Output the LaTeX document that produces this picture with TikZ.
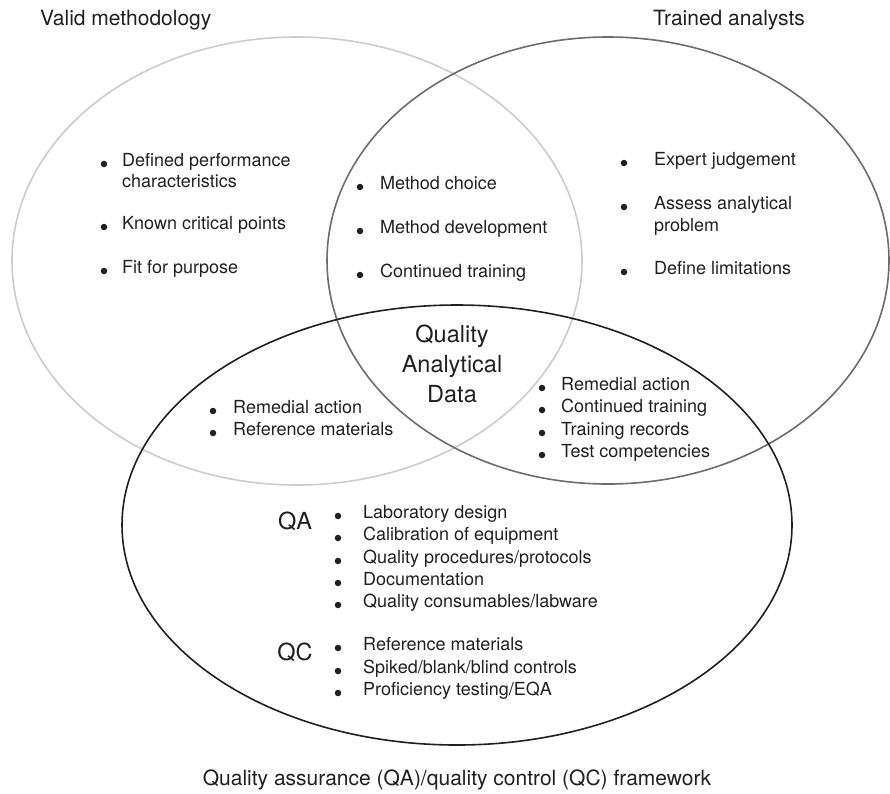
\documentclass[tikz,border=0pt]{standalone}
\usepackage{fontspec}
\setmainfont{TeX Gyre Heros}
\definecolor{ink}{RGB}{35,31,32}
\definecolor{paleline}{RGB}{204,204,204}
\definecolor{midline}{RGB}{108,108,108}
\begin{document}
\begin{tikzpicture}[x=1pt,y=-1pt,
  ring/.style={line width=1.6pt},
  dot/.style={circle,fill=ink,inner sep=0pt,minimum size=6.5pt},
  item/.style={anchor=mid west,inner sep=0pt,text=ink,font=\fontsize{18}{21}\selectfont},
  heading/.style={inner sep=0pt,text=ink,font=\fontsize{21}{25}\selectfont},
  big/.style={inner sep=0pt,text=ink,font=\fontsize{23.5}{30}\selectfont,align=center}]
\useasboundingbox (0,0) rectangle (890,793);

\draw[ring,paleline] (297,261) ellipse [x radius=285pt, y radius=224pt];
\draw[ring,midline] (608,260.5) ellipse [x radius=281pt, y radius=223.5pt];
\draw[ring,ink] (457,525) ellipse [x radius=335pt, y radius=220pt];

\node[heading,anchor=mid west] (valid) at (40,23) {Valid methodology};
\node[heading,anchor=mid west] (trained) at (653,23) {Trained analysts};
\node[heading,anchor=mid] (framework) at (457,783) {Quality assurance (QA)/quality control (QC) framework};

\node[big] (qad) at (452,364) {Quality\\Analytical\\Data};
\node[big,anchor=mid] (qa) at (295,527) {QA};
\node[big,anchor=mid] (qc) at (295,658) {QC};

\node[dot] (vm1d) at (104,164) {};
\node[item] (vm1) at (122,164) {Defined performance};
\node[item] (vm1b) at (122,185) {characteristics};
\node[dot] (vm2d) at (104,227) {};
\node[item] (vm2) at (122,227) {Known critical points};
\node[dot] (vm3d) at (104,271) {};
\node[item] (vm3) at (122,271) {Fit for purpose};

\node[dot] (mt1d) at (360,187) {};
\node[item] (mt1) at (380,187) {Method choice};
\node[dot] (mt2d) at (360,231) {};
\node[item] (mt2) at (380,231) {Method development};
\node[dot] (mt3d) at (360,275) {};
\node[item] (mt3) at (380,275) {Continued training};

\node[dot] (ta1d) at (624,163) {};
\node[item] (ta1) at (654,163) {Expert judgement};
\node[dot] (ta2d) at (624,207) {};
\node[item] (ta2) at (654,207) {Assess analytical};
\node[item] (ta2b) at (654,229) {problem};
\node[dot] (ta3d) at (624,272) {};
\node[item] (ta3) at (654,272) {Define limitations};

\node[dot] (vq1d) at (213,411) {};
\node[item] (vq1) at (233,411) {Remedial action};
\node[dot] (vq2d) at (213,433) {};
\node[item] (vq2) at (233,433) {Reference materials};

\node[dot] (tq1d) at (542,388) {};
\node[item] (tq1) at (561,388) {Remedial action};
\node[dot] (tq2d) at (542,410) {};
\node[item] (tq2) at (561,410) {Continued training};
\node[dot] (tq3d) at (542,433) {};
\node[item] (tq3) at (561,433) {Training records};
\node[dot] (tq4d) at (542,455) {};
\node[item] (tq4) at (561,455) {Test competencies};

\node[dot] (qa1d) at (338,516) {};
\node[item] (qa1) at (363,516) {Laboratory design};
\node[dot] (qa2d) at (338,538) {};
\node[item] (qa2) at (363,538) {Calibration of equipment};
\node[dot] (qa3d) at (338,561) {};
\node[item] (qa3) at (363,561) {Quality procedures/protocols};
\node[dot] (qa4d) at (338,583) {};
\node[item] (qa4) at (363,583) {Documentation};
\node[dot] (qa5d) at (338,605) {};
\node[item] (qa5) at (363,605) {Quality consumables/labware};

\node[dot] (qc1d) at (338,648) {};
\node[item] (qc1) at (363,648) {Reference materials};
\node[dot] (qc2d) at (338,671) {};
\node[item] (qc2) at (363,671) {Spiked/blank/blind controls};
\node[dot] (qc3d) at (338,693) {};
\node[item] (qc3) at (363,693) {Proficiency testing/EQA};
\end{tikzpicture}
\end{document}
